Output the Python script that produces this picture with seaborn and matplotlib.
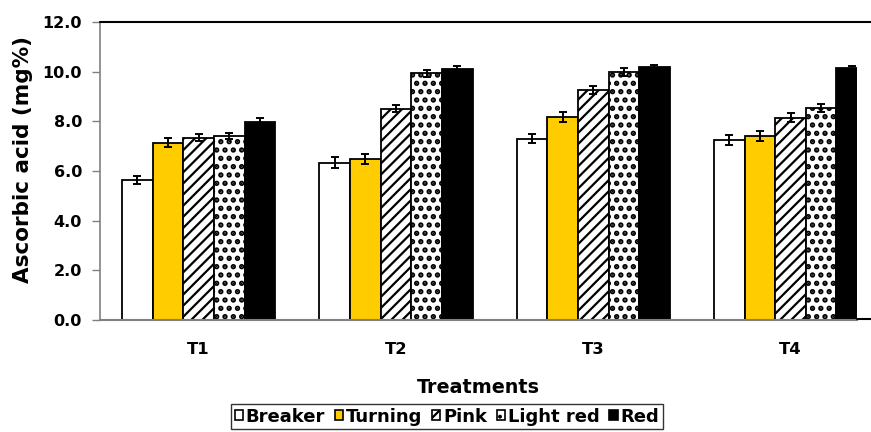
import numpy as np
import pandas as pd
import seaborn as sns
import matplotlib
matplotlib.use("Agg")
import matplotlib.pyplot as plt
from matplotlib.patches import Patch
from matplotlib.lines import Line2D

treatments = ["T1", "T2", "T3", "T4"]
stages = ["Breaker", "Turning", "Pink", "Light red", "Red"]
breaker = [5.64, 6.34, 7.30, 7.25]
turning = [7.14, 6.50, 8.16, 7.42]
pink = [7.34, 8.51, 9.26, 8.15]
light_red = [7.41, 9.93, 9.97, 8.55]
red = [7.99, 10.09, 10.18, 10.14]
err_breaker = [0.17, 0.21, 0.19, 0.20]
err_turning = [0.19, 0.20, 0.20, 0.21]
err_pink = [0.14, 0.15, 0.16, 0.17]
err_light_red = [0.13, 0.13, 0.16, 0.16]
err_red = [0.16, 0.15, 0.10, 0.10]
y_ticks = [0, 2, 4, 6, 8, 10, 12]

values = [breaker, turning, pink, light_red, red]
errors = [err_breaker, err_turning, err_pink, err_light_red, err_red]
colors = ["#FFFFFF", "#FFCC00", "#FFFFFF", "#FFFFFF", "#000000"]
hatches = ["", "", "///", "..", ""]
hatch_lw = [1.6, 1.6, 1.6, 2.6, 1.6]


def set_hlw(p, lw):
    if hasattr(p, "set_hatch_linewidth"):
        p.set_hatch_linewidth(lw)
    else:
        p._hatch_linewidth = lw


rows = []
for s, vals in zip(stages, values):
    for t, v in zip(treatments, vals):
        rows.append({"Treatment": t, "Stage": s, "value": v})
df = pd.DataFrame(rows)

sns.set_style("white")
plt.rcParams["font.family"] = ["DejaVu Sans"]
plt.rcParams["font.weight"] = "bold"
plt.rcParams["hatch.linewidth"] = 1.6
plt.rcParams["text.color"] = "black"
plt.rcParams["axes.labelcolor"] = "black"
plt.rcParams["xtick.color"] = "black"
plt.rcParams["ytick.color"] = "black"

W, H = 871, 432
fig = plt.figure(figsize=(W / 100, H / 100), dpi=100)
left, right, top, bottom = 100, 857, 22, 320
ax = fig.add_axes([left / W, 1 - bottom / H, (right - left) / W, (bottom - top) / H])

sns.barplot(data=df, x="Treatment", y="value", hue="Stage", hue_order=stages,
            order=treatments, palette=colors, width=0.776, edgecolor="black",
            linewidth=1.3, errorbar=None, legend=False, ax=ax, saturation=1)

bar_containers = list(ax.containers)
for i, cont in enumerate(bar_containers):
    xs = []
    for p in cont.patches:
        p.set_hatch(hatches[i])
        p.set_edgecolor("black")
        set_hlw(p, hatch_lw[i])
        xs.append(p.get_x() + p.get_width() / 2)
    ax.errorbar(xs, values[i], yerr=errors[i], fmt="none", ecolor="black",
                elinewidth=1.4, capsize=3.2, capthick=1.4, zorder=5)

ax.set_ylim(0, 12)
ax.set_xlim(-0.5, -0.5 + (right - left) / 197.3)
ax.set_yticks(y_ticks)
ax.set_yticklabels([f"{v:.1f}" for v in y_ticks], fontsize=11.5, fontweight="bold")
ax.set_xticks(range(len(treatments)))
ax.set_xticklabels(treatments, fontsize=11.8, fontweight="bold")
ax.tick_params(axis="x", length=0, pad=16, labelcolor="black")
ax.tick_params(axis="y", length=6, width=1, color="#808080", direction="out", pad=7,
               left=True, labelcolor="black")
ax.set_ylabel("Ascorbic acid (mg%)", fontsize=15.5, fontweight="bold", color="black")
ax.yaxis.set_label_coords(-0.0885, 0.54)
ax.set_xlabel("Treatments", fontsize=13.8, fontweight="bold", labelpad=15, color="black")

for sp in ["top", "right"]:
    ax.spines[sp].set_visible(False)
ax.spines["left"].set_color("#808080")
ax.spines["bottom"].set_color("#808080")
ax.spines["left"].set_linewidth(1.2)
ax.spines["bottom"].set_linewidth(1.5)

fig.add_artist(Line2D([left / W, 1.0], [1 - top / H, 1 - top / H], color="black", lw=1.5))
fig.add_artist(Line2D([right / W, 1.0], [1 - 318.5 / H, 1 - 318.5 / H], color="black", lw=1.5))

handles = []
for c, h, lw in zip(colors, ["", "", "//", "..", ""], hatch_lw):
    hp = Patch(facecolor=c, edgecolor="black", hatch=h, linewidth=1.2)
    set_hlw(hp, lw)
    handles.append(hp)
leg = fig.legend(handles, stages, loc="upper center", bbox_to_anchor=(447 / W, 1 - 404 / H),
                 ncol=5, frameon=True, fancybox=False, edgecolor="black",
                 prop={"size": 13, "weight": "bold"}, handlelength=0.45, handleheight=0.45,
                 handletextpad=0.15, columnspacing=0.55, borderpad=0.2, borderaxespad=0)
leg.get_frame().set_linewidth(1.0)
for t in leg.get_texts():
    t.set_color("black")

fig.savefig("out.png", dpi=100, facecolor="white")
